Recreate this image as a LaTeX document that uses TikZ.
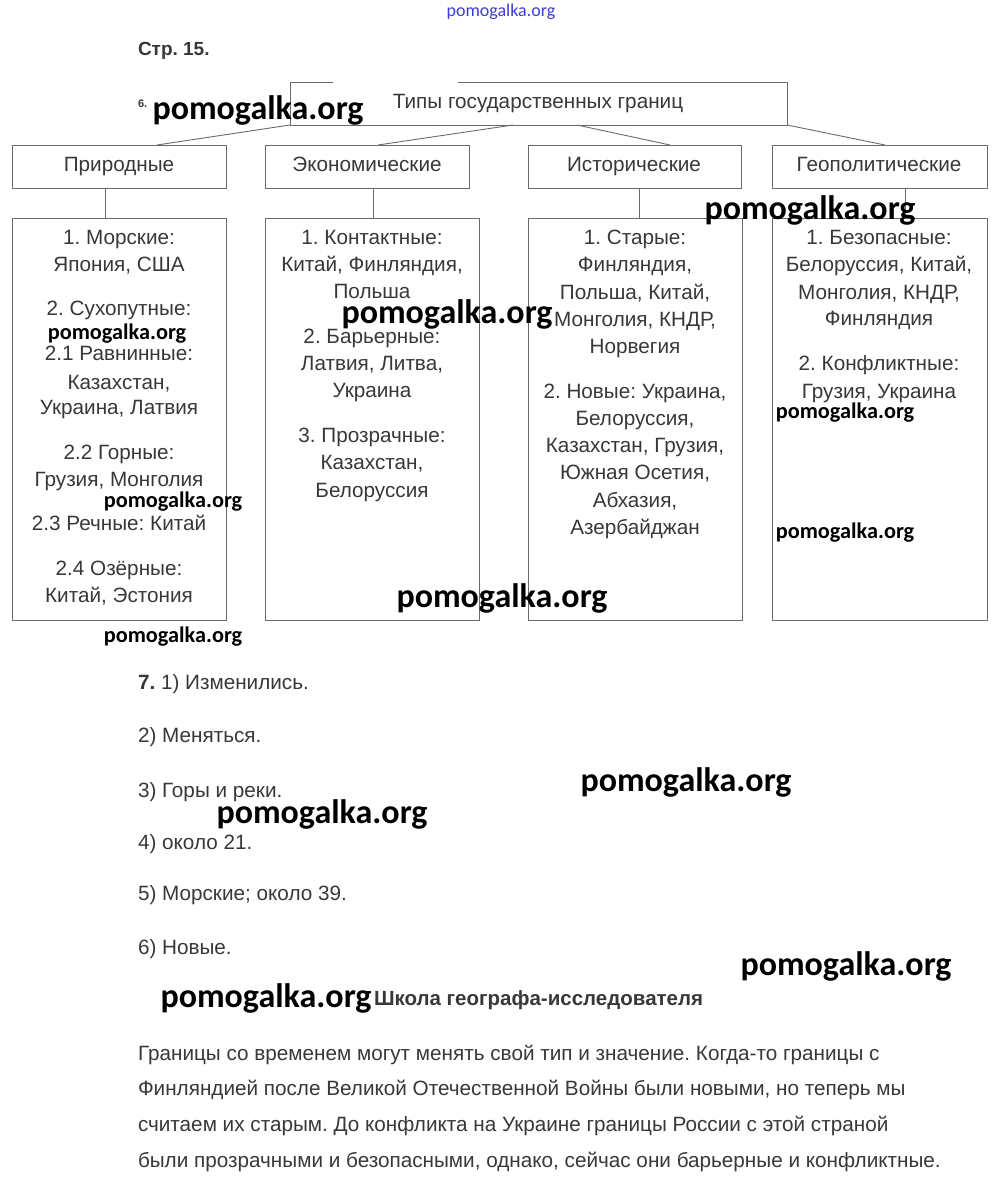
\documentclass[tikz,border=0pt]{standalone}
\usepackage{fontspec}
\setmainfont{Liberation Sans}
\newfontfamily\wmfont{Carlito}
\usetikzlibrary{calc}
\definecolor{txt}{HTML}{383838}
\definecolor{ln}{HTML}{6A6A6A}
\definecolor{wmblue}{HTML}{3C3CD6}
\begin{document}
\frenchspacing
\begin{tikzpicture}[x=1pt,y=-1pt,
  every node/.style={inner sep=0pt, outer sep=0pt},
  lab/.style={font=\fontsize{20.7}{24}\selectfont, text=txt, anchor=base},
  llab/.style={font=\fontsize{20.7}{24}\selectfont, text=txt, anchor=base west},
  box/.style={draw=ln, line width=0.9pt, anchor=north west, minimum height=43pt},
  bigbox/.style={draw=ln, line width=0.9pt, anchor=north west, minimum height=402pt},
  conn/.style={draw=ln, line width=0.9pt},
  wmbig/.style={font=\wmfont\bfseries\fontsize{34}{40}\selectfont, text=black},
  wmsmall/.style={font=\wmfont\bfseries\fontsize{22.3}{26}\selectfont, text=black}]
\useasboundingbox[fill=white] (0,0) rectangle (1000,1184);

% header
\node[font=\wmfont\fontsize{18}{20}\selectfont, text=wmblue] (wtop) at (501,12) {pomogalka.org};
\node[font=\bfseries\fontsize{19}{22}\selectfont, text=txt, anchor=base west] (page) at (138,55) {Стр. 15.};
\node[font=\bfseries\fontsize{11}{13}\selectfont, text=txt, anchor=base west] (n6) at (138,107) {6.};

% top box (its border has a gap at the top)
\node[anchor=north west, minimum width=497pt, minimum height=43pt] (top) at (290,82) {};
\draw[conn] (top.north west -| 333,0) -- (top.north west) -- (top.south west) -- (top.south east) -- (top.north east) -- (top.north west -| 458,0);
\node[lab] (toplab) at (538,108) {Типы государственных границ};

% level 2
\node[box, minimum width=214pt] (p) at (12,145) {};
\node[box, minimum width=204pt] (e) at (265,145) {};
\node[box, minimum width=213pt] (h) at (528,145) {};
\node[box, minimum width=215pt] (g) at (772,145) {};
\node[lab] (plab) at (119,171) {Природные};
\node[lab] (elab) at (367,171) {Экономические};
\node[lab] (hlab) at (634,171) {Исторические};
\node[lab] (glab) at (879,171) {Геополитические};

\draw[conn] (top.south west) -- (p.north -| 157,0);
\draw[conn] (top.south -| 513,0) -- (e.north -| 378,0);
\draw[conn] (top.south -| 577,0) -- (h.north -| 670,0);
\draw[conn] (top.south east) -- (g.north -| 885,0);

% level 3
\node[bigbox, minimum width=214pt] (b1) at (12,218) {};
\node[bigbox, minimum width=214pt] (b2) at (265,218) {};
\node[bigbox, minimum width=214pt] (b3) at (528,218) {};
\node[bigbox, minimum width=215pt] (b4) at (772,218) {};

\draw[conn] (p.south -| 105,0) -- (b1.north -| 105,0);
\draw[conn] (e.south -| 373,0) -- (b2.north -| 373,0);
\draw[conn] (h.south -| 639,0) -- (b3.north -| 639,0);
\draw[conn] (g.south -| 905,0) -- (b4.north -| 905,0);

\foreach \t/\y [count=\i] in {{1. Морские:}/244, {Япония, США}/271, {2. Сухопутные:}/315, {2.1 Равнинные:}/360, {Казахстан,}/389, {Украина, Латвия}/414, {2.2 Горные:}/459, {Грузия, Монголия}/486, {2.3 Речные: Китай}/530, {2.4 Озёрные:}/575, {Китай, Эстония}/602}
  \node[lab] (ta\i) at (119,\y) {\t};
\foreach \t/\y [count=\i] in {{1. Контактные:}/244, {Китай, Финляндия,}/271, {Польша}/298, {2. Барьерные:}/343, {Латвия, Литва,}/370, {Украина}/397, {3. Прозрачные:}/442, {Казахстан,}/469, {Белоруссия}/497}
  \node[lab] (tb\i) at (372,\y) {\t};
\foreach \t/\y [count=\i] in {{1. Старые:}/244, {Финляндия,}/271, {Польша, Китай,}/299, {Монголия, КНДР,}/326, {Норвегия}/353, {2. Новые: Украина,}/398, {Белоруссия,}/425, {Казахстан, Грузия,}/452, {Южная Осетия,}/479, {Абхазия,}/507, {Азербайджан}/534}
  \node[lab] (tc\i) at (635,\y) {\t};
\foreach \t/\y [count=\i] in {{1. Безопасные:}/244, {Белоруссия, Китай,}/271, {Монголия, КНДР,}/299, {Финляндия}/325, {2. Конфликтные:}/370, {Грузия, Украина}/398}
  \node[lab] (td\i) at (879,\y) {\t};

% section 7
\node[llab] (a1) at (138,689) {\textbf{7.} 1) Изменились.};
\node[llab] (a2) at (138,742) {2) Меняться.};
\node[llab] (a3) at (138,797) {3) Горы и реки.};
\node[llab] (a4) at (138,849) {4) около 21.};
\node[llab] (a5) at (138,900) {5) Морские; около 39.};
\node[llab] (a6) at (138,954) {6) Новые.};

\node[font=\bfseries\fontsize{20.5}{24}\selectfont, text=txt, anchor=base west] (school) at (374,1005) {Школа географа-исследователя};
\node[llab] (q1) at (138,1060) {Границы со временем могут менять свой тип и значение. Когда-то границы с};
\node[llab] (q2) at (138,1095) {Финляндией после Великой Отечественной Войны были новыми, но теперь мы};
\node[llab] (q3) at (138,1131) {считаем их старым. До конфликта на Украине границы России с этой страной};
\node[llab] (q4) at (138,1167) {были прозрачными и безопасными, однако, сейчас они барьерные и конфликтные.};

% watermarks
\node[wmbig] (w1) at (258,110) {pomogalka.org};
\node[wmbig] (w2) at (810,210) {pomogalka.org};
\node[wmbig] (w3) at (447,314) {pomogalka.org};
\node[wmbig] (w4) at (502,598) {pomogalka.org};
\node[wmbig] (w5) at (686,782) {pomogalka.org};
\node[wmbig] (w6) at (322,814) {pomogalka.org};
\node[wmbig] (w7) at (846,966) {pomogalka.org};
\node[wmbig] (w8) at (266,998) {pomogalka.org};
\node[wmsmall] (s1) at (117,334) {pomogalka.org};
\node[wmsmall] (s2) at (173,502) {pomogalka.org};
\node[wmsmall] (s3) at (173,637) {pomogalka.org};
\node[wmsmall] (s4) at (845,413) {pomogalka.org};
\node[wmsmall] (s5) at (845,533) {pomogalka.org};
\end{tikzpicture}
\end{document}
